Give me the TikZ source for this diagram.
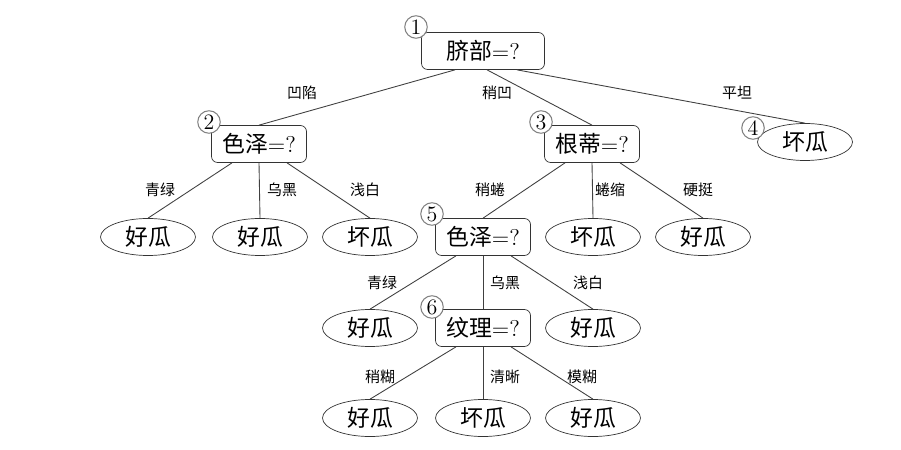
\documentclass[tikz,border=0pt]{standalone}
\usepackage{fontspec}
\newfontfamily\cjk{Noto Sans CJK SC}
\usetikzlibrary{shapes}
\tikzset{
  test/.style={draw=black!80, rounded corners=.8ex, minimum width=19mm, minimum height=7.4mm, inner sep=0pt, font=\fontsize{13}{15}\selectfont},
  leaf/.style={draw=black!80, ellipse, minimum width=19mm, minimum height=7.4mm, inner sep=0pt, font=\cjk\fontsize{13}{15}\selectfont},
  badge/.style={draw=gray, line width=0.6pt, fill=white, circle, minimum size=4.5mm, inner sep=0pt, font=\fontsize{12.5}{13}\selectfont},
  val/.style={font=\cjk\fontsize{8.5}{10}\selectfont, inner sep=1pt},
  branch/.style={black!75, line width=0.5pt}
}

\begin{document}
\begin{tikzpicture}[x=0.2mm, y=-0.2mm]
\useasboundingbox (0,0) rectangle (901,450);

% root
\node [test, minimum width=24.6mm] (root) at (483,51) {{\cjk 脐部}=?};
\node [test] (n2) at (259,144) {{\cjk 色泽}=?};
\node [test] (n3) at (592,144) {{\cjk 根蒂}=?};
\node [leaf] (l4) at (805,142) {坏瓜};

\draw [branch] ([xshift=-5.6mm]root.south) -- (n2.north);
\draw [branch] ([xshift=0.8mm]root.south) -- (n3.north);
\draw [branch] ([xshift=6.8mm]root.south) -- (l4.north);
\node [val] at (302,93) {凹陷};
\node [val] at (497,93) {稍凹};
\node [val] at (737,93) {平坦};

% under 2
\node [leaf] (a1) at (148,237) {好瓜};
\node [leaf] (a2) at (260,237) {好瓜};
\node [leaf] (a3) at (370,237) {坏瓜};
\draw [branch] ([xshift=-5.4mm]n2.south) -- (a1.north);
\draw [branch] (n2.south) -- (a2.north);
\draw [branch] ([xshift=5.6mm]n2.south) -- (a3.north);
\node [val] at (160,190) {青绿};
\node [val] at (282,190) {乌黑};
\node [val] at (365,190) {浅白};

% under 3
\node [test] (n5) at (483,237) {{\cjk 色泽}=?};
\node [leaf] (b2) at (593,237) {坏瓜};
\node [leaf] (b3) at (703,237) {好瓜};
\draw [branch] ([xshift=-5.4mm]n3.south) -- (n5.north);
\draw [branch] (n3.south) -- (b2.north);
\draw [branch] ([xshift=5.6mm]n3.south) -- (b3.north);
\node [val] at (490,190) {稍蜷};
\node [val] at (610,190) {蜷缩};
\node [val] at (698,190) {硬挺};

% under 5
\node [leaf] (c1) at (370,328) {好瓜};
\node [test] (n6) at (483,328) {{\cjk 纹理}=?};
\node [leaf] (c3) at (593,328) {好瓜};
\draw [branch] ([xshift=-5.4mm]n5.south) -- (c1.north);
\draw [branch] (n5.south) -- (n6.north);
\draw [branch] ([xshift=5.6mm]n5.south) -- (c3.north);
\node [val] at (382,283) {青绿};
\node [val] at (505,283) {乌黑};
\node [val] at (588,283) {浅白};

% under 6
\node [leaf] (d1) at (370,418) {好瓜};
\node [leaf] (d2) at (483,418) {坏瓜};
\node [leaf] (d3) at (593,418) {好瓜};
\draw [branch] ([xshift=-5.4mm]n6.south) -- (d1.north);
\draw [branch] (n6.south) -- (d2.north);
\draw [branch] ([xshift=5.6mm]n6.south) -- (d3.north);
\node [val] at (380,377) {稍糊};
\node [val] at (505,377) {清晰};
\node [val] at (582,377) {模糊};

% numbers
\node [badge] (k1) at (416,27) {1};
\node [badge] (k2) at (209,122) {2};
\node [badge] (k3) at (541,122) {3};
\node [badge] (k4) at (753,128) {4};
\node [badge] (k5) at (432,214) {5};
\node [badge] (k6) at (432,307) {6};
\end{tikzpicture}
\end{document}
